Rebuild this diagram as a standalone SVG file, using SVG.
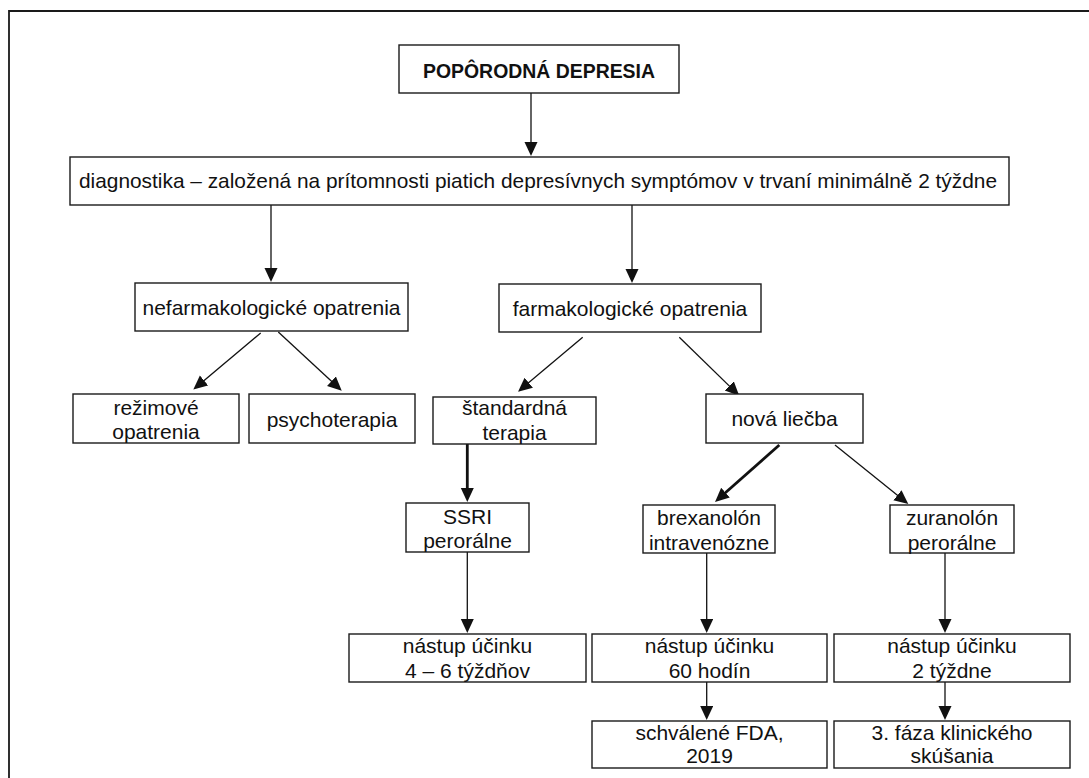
<svg xmlns="http://www.w3.org/2000/svg" width="1089" height="778" viewBox="0 0 1089 778">
<style>
  .box { fill: #fff; stroke: #1a1a1a; stroke-width: 1.4; }
  .t { font-family: "Liberation Sans", Arial, sans-serif; font-size: 21px; fill: #111; text-anchor: middle; }
  .tb { font-family: "Liberation Sans", Arial, sans-serif; font-size: 21px; font-weight: bold; fill: #111; text-anchor: middle; }
  .c { stroke: #111; stroke-width: 1.3; fill: none; marker-end: url(#ah); }
  .ck { stroke: #111; stroke-width: 2.8; fill: none; marker-end: url(#ah); }
  .frame { stroke: #1a1a1a; stroke-width: 1.8; fill: none; }
</style>
<defs>
  <marker id="ah" markerUnits="userSpaceOnUse" markerWidth="16" markerHeight="14" refX="10" refY="6.5" orient="auto">
    <path d="M0,0 L14,6.5 L0,13 z" fill="#111"/>
  </marker>
</defs>
<rect x="0" y="0" width="1089" height="778" fill="#fff"/>
<path class="frame" d="M9,778 L9,11 L1089,11"/>

<g id="connectors">
  <line class="c" x1="531" y1="93" x2="531" y2="152"/>
  <line class="c" x1="271" y1="205" x2="271" y2="278"/>
  <line class="c" x1="632" y1="205" x2="632" y2="279"/>
  <line class="c" x1="260.7" y1="333" x2="196.4" y2="386.9"/>
  <line class="c" x1="278.3" y1="332" x2="338.8" y2="388"/>
  <line class="c" x1="582.7" y1="337.3" x2="521.1" y2="389.1"/>
  <line class="c" x1="679.3" y1="337.3" x2="736.4" y2="392.9"/>
  <line class="ck" x1="467.3" y1="444" x2="467.3" y2="498"/>
  <line class="ck" x1="779.3" y1="445" x2="718" y2="499.3"/>
  <line class="c" x1="835" y1="445" x2="905.2" y2="501.5"/>
  <line class="c" x1="467.3" y1="552" x2="467.3" y2="629"/>
  <line class="c" x1="706.7" y1="553" x2="706.7" y2="629"/>
  <line class="c" x1="706.7" y1="682" x2="706.7" y2="716"/>
  <line class="c" x1="945" y1="553" x2="945" y2="629"/>
  <line class="c" x1="945" y1="682" x2="945" y2="716"/>
</g>

<g id="title">
  <rect class="box" x="399" y="45" width="280" height="48"/>
  <text class="tb" x="539" y="78" textLength="232" lengthAdjust="spacingAndGlyphs">POPÔRODNÁ DEPRESIA</text>
</g>
<g id="diagnostika">
  <rect class="box" x="70" y="157" width="939" height="48"/>
  <text class="t" x="538" y="188" font-size="20" textLength="918" lengthAdjust="spacingAndGlyphs">diagnostika – založená na prítomnosti piatich depresívnych symptómov v trvaní minimálně 2 týždne</text>
</g>
<g id="nefarm">
  <rect class="box" x="135" y="283" width="273" height="48"/>
  <text class="t" x="271.5" y="315">nefarmakologické opatrenia</text>
</g>
<g id="farm">
  <rect class="box" x="499" y="284" width="262" height="48"/>
  <text class="t" x="630" y="316">farmakologické opatrenia</text>
</g>
<g id="rezimove">
  <rect class="box" x="73" y="394" width="166" height="49"/>
  <text class="t" x="156" y="415">režimové</text>
  <text class="t" x="156" y="439">opatrenia</text>
</g>
<g id="psychoterapia">
  <rect class="box" x="249" y="394" width="166" height="49"/>
  <text class="t" x="332" y="427">psychoterapia</text>
</g>
<g id="standardna">
  <rect class="box" x="433" y="397" width="163" height="47"/>
  <text class="t" x="514.5" y="415">štandardná</text>
  <text class="t" x="514.5" y="440">terapia</text>
</g>
<g id="nova">
  <rect class="box" x="706" y="394" width="157" height="49"/>
  <text class="t" x="784.5" y="426">nová liečba</text>
</g>
<g id="ssri">
  <rect class="box" x="406" y="503" width="123" height="49"/>
  <text class="t" x="467.5" y="524">SSRI</text>
  <text class="t" x="467.5" y="548">perorálne</text>
</g>
<g id="brexanolon">
  <rect class="box" x="643" y="505" width="132" height="48"/>
  <text class="t" x="709" y="525">brexanolón</text>
  <text class="t" x="709" y="550">intravenózne</text>
</g>
<g id="zuranolon">
  <rect class="box" x="890" y="505" width="124" height="48"/>
  <text class="t" x="952" y="525">zuranolón</text>
  <text class="t" x="952" y="550">perorálne</text>
</g>
<g id="nastup1">
  <rect class="box" x="349" y="634" width="237" height="48"/>
  <text class="t" x="467.5" y="653">nástup účinku</text>
  <text class="t" x="467.5" y="678">4 – 6 týždňov</text>
</g>
<g id="nastup2">
  <rect class="box" x="592" y="634" width="235" height="48"/>
  <text class="t" x="709.5" y="653">nástup účinku</text>
  <text class="t" x="709.5" y="678">60 hodín</text>
</g>
<g id="nastup3">
  <rect class="box" x="834" y="634" width="236" height="48"/>
  <text class="t" x="952" y="653">nástup účinku</text>
  <text class="t" x="952" y="678">2 týždne</text>
</g>
<g id="schvalene">
  <rect class="box" x="592" y="721" width="235" height="47"/>
  <text class="t" x="709.5" y="740">schválené FDA,</text>
  <text class="t" x="709.5" y="763">2019</text>
</g>
<g id="faza3">
  <rect class="box" x="834" y="721" width="236" height="47"/>
  <text class="t" x="952" y="740">3. fáza klinického</text>
  <text class="t" x="952" y="763">skúšania</text>
</g>
</svg>
